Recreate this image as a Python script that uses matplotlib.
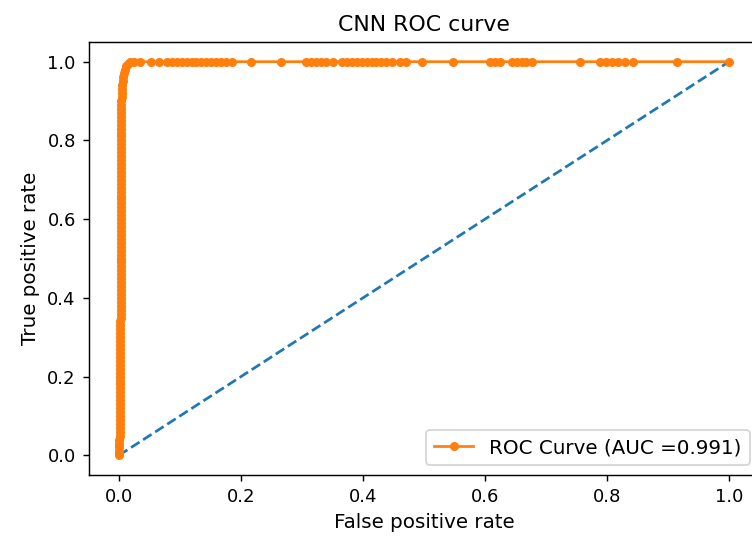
import matplotlib
matplotlib.use("Agg")
import matplotlib.pyplot as plt

# ROC points: steep rise at fpr ~ 0, then tpr = 1.0
fpr_rise = [0.000, 0.000, 0.000, 0.000, 0.000, 0.000, 0.001, 0.001, 0.001, 0.001,
            0.001, 0.001, 0.001, 0.001, 0.001, 0.001, 0.001, 0.001, 0.002, 0.002,
            0.002, 0.002, 0.002, 0.002, 0.002, 0.002, 0.002, 0.002, 0.002, 0.002,
            0.002, 0.002, 0.002, 0.002, 0.002, 0.002, 0.003, 0.003, 0.003, 0.003,
            0.003, 0.003, 0.003, 0.003, 0.003, 0.003, 0.003, 0.003, 0.003, 0.003,
            0.003, 0.003, 0.003, 0.003, 0.003, 0.003, 0.003, 0.003, 0.003, 0.003,
            0.003, 0.003, 0.003, 0.003, 0.004, 0.004, 0.004, 0.004, 0.004, 0.004,
            0.004, 0.004, 0.004, 0.004, 0.004, 0.004, 0.004, 0.004, 0.004, 0.004,
            0.004, 0.004, 0.004, 0.004, 0.004, 0.004, 0.004, 0.004, 0.004, 0.004,
            0.004, 0.004, 0.005, 0.005, 0.005, 0.005, 0.006, 0.007, 0.008, 0.010,
            0.012, 0.015, 0.018]
tpr_rise = [0.000, 0.005, 0.010, 0.020, 0.030, 0.040, 0.050, 0.060, 0.070, 0.080,
            0.090, 0.100, 0.110, 0.120, 0.130, 0.140, 0.150, 0.160, 0.170, 0.180,
            0.190, 0.200, 0.210, 0.220, 0.230, 0.240, 0.250, 0.260, 0.270, 0.280,
            0.290, 0.300, 0.310, 0.320, 0.330, 0.340, 0.350, 0.360, 0.370, 0.380,
            0.390, 0.400, 0.410, 0.420, 0.430, 0.440, 0.450, 0.460, 0.470, 0.480,
            0.490, 0.500, 0.510, 0.520, 0.530, 0.540, 0.550, 0.560, 0.570, 0.580,
            0.590, 0.600, 0.610, 0.620, 0.630, 0.640, 0.650, 0.660, 0.670, 0.680,
            0.690, 0.700, 0.710, 0.720, 0.730, 0.740, 0.750, 0.760, 0.770, 0.780,
            0.790, 0.800, 0.810, 0.820, 0.830, 0.840, 0.850, 0.860, 0.870, 0.880,
            0.890, 0.900, 0.910, 0.920, 0.930, 0.940, 0.950, 0.960, 0.970, 0.980,
            0.988, 0.994, 1.000]

fpr_top = [0.025, 0.035, 0.053, 0.066, 0.079, 0.087, 0.095, 0.103, 0.111, 0.119,
           0.127, 0.135, 0.143, 0.151, 0.159, 0.167, 0.175, 0.186, 0.217, 0.266,
           0.307, 0.315, 0.323, 0.331, 0.340, 0.350, 0.366, 0.374, 0.382, 0.390,
           0.398, 0.406, 0.414, 0.422, 0.430, 0.438, 0.448, 0.460, 0.471, 0.496,
           0.547, 0.608, 0.616, 0.624, 0.644, 0.652, 0.660, 0.668, 0.677, 0.755,
           0.788, 0.798, 0.808, 0.818, 0.830, 0.842, 0.915, 1.000]
tpr_top = [1.0] * len(fpr_top)

fpr = fpr_rise + fpr_top
tpr = tpr_rise + tpr_top
auc_score = 0.991

fig = plt.figure(figsize=(752 / 130, 545 / 130), dpi=130)
ax = fig.add_axes([88.5 / 752, 70 / 545, (759.5 - 88.5) / 752, (475 - 42) / 545])

ax.plot([0, 1], [0, 1], linestyle='--')
ax.plot(fpr, tpr, marker='.', markersize=8,
        label='ROC Curve (AUC =%.3f)' % auc_score)

ax.set_title('CNN ROC curve', fontsize=12.2)
ax.set_xlabel('False positive rate', fontsize=11)
ax.set_ylabel('True positive rate', fontsize=11)
ax.legend(loc='lower right', fontsize=11)

fig.savefig('out.png', dpi=130)
